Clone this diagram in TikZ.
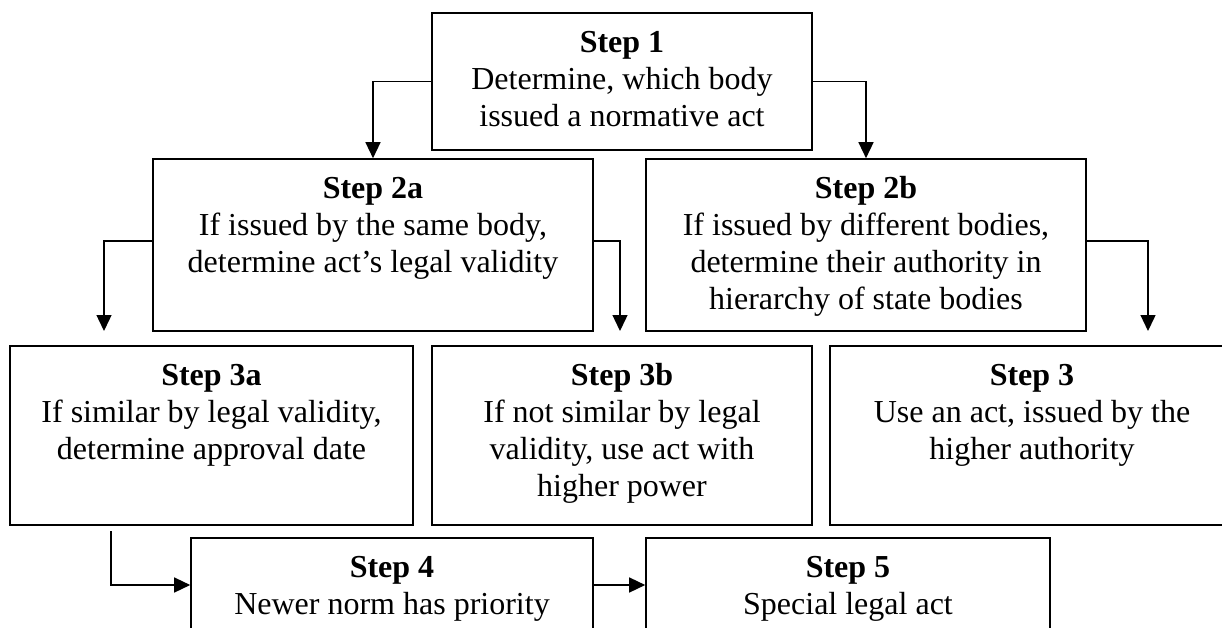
\documentclass[tikz,border=0pt]{standalone}
\usepackage{fontspec}
\setmainfont{Liberation Serif}
\usetikzlibrary{arrows.meta,calc}
\tikzset{
  box/.style={draw=black, line width=1.6pt, rectangle, inner sep=0pt, fill=none},
  txt/.style={font=\fontsize{32}{37}\selectfont, align=center, inner sep=0pt, anchor=north},
  conn/.style={draw=black, line width=1.4pt, -{Triangle[length=16pt,width=15pt]}}
}
\newcommand{\ttl}[1]{\rule{0pt}{24pt}\textbf{#1}}
\begin{document}
\begin{tikzpicture}[x=1pt,y=-1pt]
\useasboundingbox (0,0) rectangle (1222,628);
\clip (0,0) rectangle (1222,628);
\fill[white] (0,0) rectangle (1222,628);
% boxes
\node[box, minimum width=380pt, minimum height=137pt] (s1) at (622,81.5) {};
\node[box, minimum width=440pt, minimum height=172pt] (s2a) at (373,245) {};
\node[box, minimum width=440pt, minimum height=172pt] (s2b) at (866,245) {};
\node[box, minimum width=403pt, minimum height=179pt] (s3a) at (211.5,435.5) {};
\node[box, minimum width=380pt, minimum height=179pt] (s3b) at (622,435.5) {};
\node[box, minimum width=404pt, minimum height=179pt] (s3) at (1032,435.5) {};
\node[box, minimum width=402pt, minimum height=94pt] (s4) at (392,585) {};
\node[box, minimum width=404pt, minimum height=94pt] (s5) at (848,585) {};
% texts
\node[txt] (t1) at ($(s1.north)+(0,16)$) {\ttl{Step 1}\\Determine, which body\\issued a normative act};
\node[txt] (t2a) at ($(s2a.north)+(0,16)$) {\ttl{Step 2a}\\If issued by the same body,\\determine act’s legal validity};
\node[txt] (t2b) at ($(s2b.north)+(0,16)$) {\ttl{Step 2b}\\If issued by different bodies,\\determine their authority in\\hierarchy of state bodies};
\node[txt] (t3a) at ($(s3a.north)+(0,16)$) {\ttl{Step 3a}\\If similar by legal validity,\\determine approval date};
\node[txt] (t3b) at ($(s3b.north)+(0,16)$) {\ttl{Step 3b}\\If not similar by legal\\validity, use act with\\higher power};
\node[txt] (t3) at ($(s3.north)+(0,16)$) {\ttl{Step 3}\\Use an act, issued by the\\higher authority};
\node[txt] (t4) at ($(s4.north)+(0,16)$) {\ttl{Step 4}\\Newer norm has priority};
\node[txt] (t5) at ($(s5.north)+(0,16)$) {\ttl{Step 5}\\Special legal act};
% connectors
\coordinate (e1) at (104,331);
\coordinate (e2) at (620,331);
\coordinate (e3) at (1148,331);
\coordinate (e4) at (111,531);
\draw[conn] (s1.west) -| (s2a.north);
\draw[conn] (s1.east) -| (s2b.north);
\draw[conn] ($(s2a.west)+(0,-4)$) -| (e1);
\draw[conn] ($(s2a.east)+(0,-4)$) -| (e2);
\draw[conn] ($(s2b.east)+(0,-4)$) -| (e3);
\draw[conn] (e4) |- (s4.west);
\draw[conn] (s4.east) -- (s5.west);
\end{tikzpicture}
\end{document}
